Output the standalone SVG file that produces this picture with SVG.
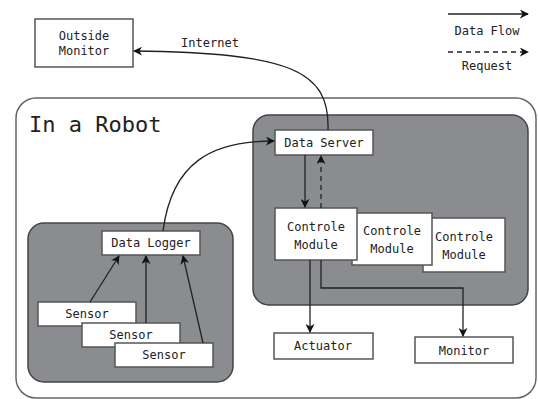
<svg xmlns="http://www.w3.org/2000/svg" width="538" height="399" viewBox="0 0 538 399">
<defs>
<style>
.t{font-family:"DejaVu Sans Mono","Liberation Mono",monospace;font-size:12px;fill:#222;text-anchor:middle}
.box{fill:#fff;stroke:#555;stroke-width:1.5}
.panel{fill:#8b8c8f;stroke:#444;stroke-width:1.5}
.ln{fill:none;stroke:#222;stroke-width:1.3}
.dash{stroke-dasharray:5,4}
</style>
<marker id="ah" viewBox="0 0 10 10" refX="9" refY="5" markerWidth="9" markerHeight="9" markerUnits="userSpaceOnUse" orient="auto">
<path d="M0,0 L10,5 L0,10 L3,5 Z" fill="#111"/>
</marker>
</defs>
<rect width="538" height="399" fill="#fff"/>
<g id="outer">
<rect x="16" y="98" width="520" height="300" rx="20" fill="#fff" stroke="#666" stroke-width="1.5"/>
<text x="29" y="132" style="font-family:'DejaVu Sans Mono','Liberation Mono',monospace;font-size:22px;fill:#222">In a Robot</text>
</g>
<g id="panel-right"><rect class="panel" x="253" y="115" width="275" height="190" rx="16"/></g>
<g id="panel-left"><rect class="panel" x="28" y="223" width="205" height="159" rx="16"/></g>
<g id="outside-monitor">
<rect class="box" x="35" y="19" width="98" height="48"/>
<text class="t" x="84" y="40">Outside</text>
<text class="t" x="84" y="55">Monitor</text>
</g>
<g id="legend">
<line class="ln" x1="448" y1="14" x2="528" y2="14" marker-end="url(#ah)"/>
<text class="t" x="487" y="35">Data Flow</text>
<line class="ln dash" x1="448" y1="52" x2="528" y2="52" marker-end="url(#ah)"/>
<text class="t" x="487" y="70">Request</text>
</g>
<g id="data-server">
<rect class="box" x="275" y="130" width="98" height="25"/>
<text class="t" x="324" y="147">Data Server</text>
</g>
<g id="controle-module-3">
<rect class="box" x="423" y="218" width="82" height="54"/>
<text class="t" x="464" y="241">Controle</text>
<text class="t" x="464" y="259">Module</text>
</g>
<g id="controle-module-2">
<rect class="box" x="352" y="213" width="80" height="52"/>
<text class="t" x="392" y="235">Controle</text>
<text class="t" x="392" y="253">Module</text>
</g>
<g id="controle-module-1">
<rect class="box" x="275" y="208" width="82" height="52"/>
<text class="t" x="316" y="231">Controle</text>
<text class="t" x="316" y="249">Module</text>
</g>
<g id="actuator">
<rect class="box" x="274" y="333" width="99" height="26"/>
<text class="t" x="323" y="350">Actuator</text>
</g>
<g id="monitor">
<rect class="box" x="415" y="337" width="98" height="26"/>
<text class="t" x="464" y="355">Monitor</text>
</g>
<g id="data-logger">
<rect class="box" x="102" y="231" width="98" height="24"/>
<text class="t" x="151" y="247">Data Logger</text>
</g>
<g id="sensor-1">
<rect class="box" x="38" y="302" width="98" height="24"/>
<text class="t" x="87" y="318">Sensor</text>
</g>
<g id="sensor-2">
<rect class="box" x="82" y="323" width="98" height="24"/>
<text class="t" x="131" y="339">Sensor</text>
</g>
<g id="sensor-3">
<rect class="box" x="115" y="343" width="98" height="24"/>
<text class="t" x="164" y="359">Sensor</text>
</g>
<g id="connectors">
<path class="ln" d="M328 130 C330 70 290 53 134 51" marker-end="url(#ah)"/>
<text class="t" x="210" y="47">Internet</text>
<path class="ln" d="M163 231 C172 162 212 141 274 141" marker-end="url(#ah)"/>
<line class="ln" x1="305" y1="155" x2="305" y2="207" marker-end="url(#ah)"/>
<line class="ln dash" x1="321" y1="208" x2="321" y2="156" marker-end="url(#ah)"/>
<line class="ln" x1="310" y1="260" x2="310" y2="332" marker-end="url(#ah)"/>
<polyline class="ln" points="321,260 321,288 463,288 463,336" marker-end="url(#ah)"/>
<line class="ln" x1="90" y1="302" x2="119" y2="256" marker-end="url(#ah)"/>
<line class="ln" x1="146" y1="323" x2="146" y2="256" marker-end="url(#ah)"/>
<line class="ln" x1="203" y1="343" x2="183" y2="256" marker-end="url(#ah)"/>
</g>
</svg>
